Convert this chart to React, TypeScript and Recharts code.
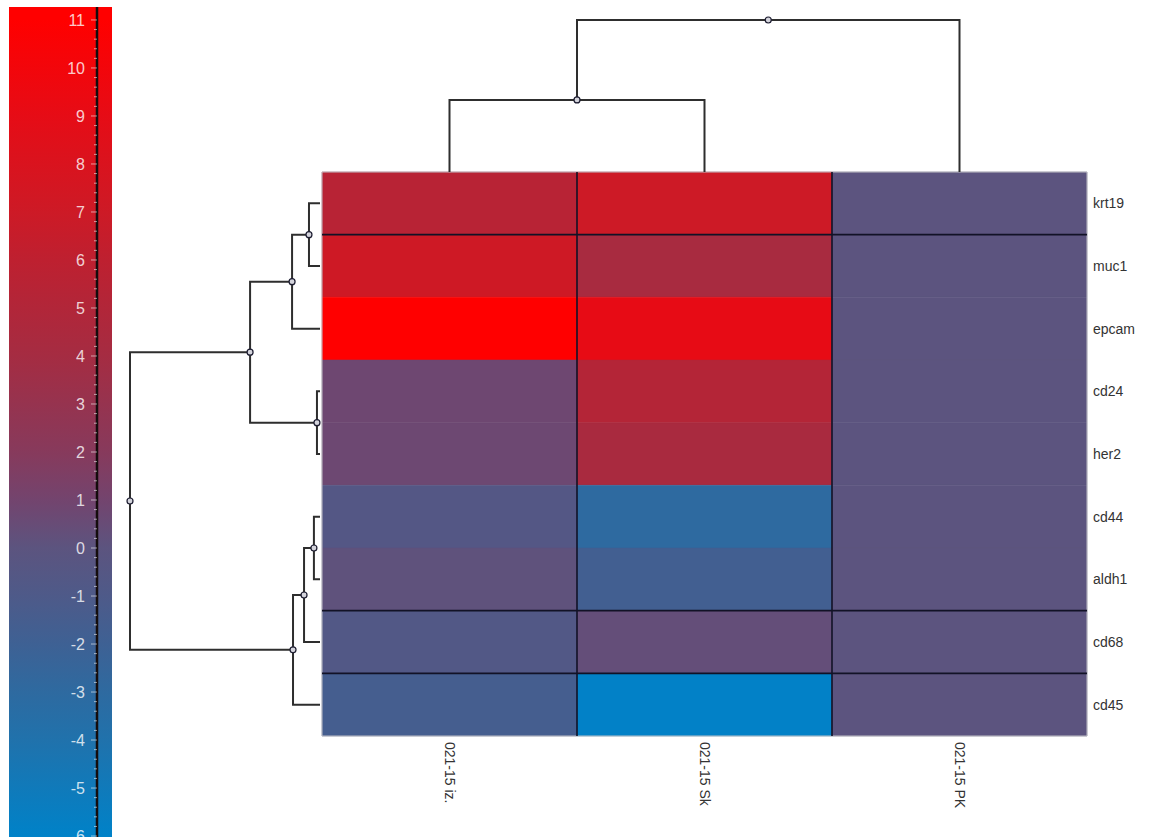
import React from "react";
import {
  ComposedChart, XAxis, YAxis, Line, Scatter, ReferenceArea, ReferenceLine,
} from "recharts";

const W = 1152;
const H = 837;
const FONT = "'Liberation Sans', Arial, sans-serif";

// rows (genes) and columns (samples) in dendrogram order
const genes = ["krt19", "muc1", "epcam", "cd24", "her2", "cd44", "aldh1", "cd68", "cd45"];
const samples = ["021-15 iz.", "021-15 Sk", "021-15 PK"];

// expression values per sample, same order as genes
const izValues = [5.5, 7.1, 11, 0.8, 0.75, -0.55, 0.15, -0.7, -1.55];
const skValues = [7.0, 4.2, 9.1, 5.2, 4.3, -3.0, -1.75, 0.35, -5.9];
const pkValues = [0, 0, 0, 0, 0, 0, 0, 0, 0];
const sampleValues = [izValues, skValues, pkValues];

// linkage: [childA, childB, distance]; ids >= n are earlier merges
const rowMerges: [number, number, number][] = [
  [0, 1, 0.58],
  [9, 2, 1.47],
  [3, 4, 0.16],
  [10, 11, 3.68],
  [5, 6, 0.32],
  [13, 7, 0.84],
  [14, 8, 1.42],
  [12, 15, 10],
];
const colMerges: [number, number, number][] = [
  [0, 1, 4.74],
  [3, 2, 10],
];

// cluster cut lines drawn on the heatmap
const rowCuts = [1, 7, 8];
const colCuts = [1, 2];

// colour scale
const colorStopValues = [11, 9, 7, 6, 4, 2, 1, 0, -1, -2, -3, -4, -6];
const colorStopRgb: [number, number, number][] = [
  [255, 0, 0], [230, 12, 22], [205, 26, 38], [190, 32, 48], [165, 44, 66],
  [135, 58, 92], [115, 68, 110], [92, 84, 127], [78, 90, 137], [62, 97, 148],
  [46, 106, 160], [32, 114, 172], [0, 130, 200],
];
const scaleTicks = [11, 10, 9, 8, 7, 6, 5, 4, 3, 2, 1, 0, -1, -2, -3, -4, -5, -6];
const barTop = 11.27;
const barBottom = -6.02;

function rgb(c: number[]) {
  return `rgb(${c.map(Math.round).join(",")})`;
}

function valueColor(v: number) {
  if (v >= colorStopValues[0]) return rgb(colorStopRgb[0]);
  for (let i = 1; i < colorStopValues.length; i++) {
    const hi = colorStopValues[i - 1];
    const lo = colorStopValues[i];
    if (v >= lo) {
      const t = (hi - v) / (hi - lo);
      const a = colorStopRgb[i - 1];
      const b = colorStopRgb[i];
      return rgb([0, 1, 2].map(k => a[k] + (b[k] - a[k]) * t));
    }
  }
  return rgb(colorStopRgb[colorStopRgb.length - 1]);
}

type Pt = { pos: number; h: number };

function buildTree(n: number, merges: [number, number, number][]) {
  const pos: number[] = [];
  const height: number[] = [];
  for (let i = 0; i < n; i++) { pos.push(i + 0.5); height.push(0); }
  const links: Pt[][] = [];
  const nodes: Pt[] = [];
  merges.forEach(([a, b, d]) => {
    links.push([
      { pos: pos[a], h: height[a] },
      { pos: pos[a], h: d },
      { pos: pos[b], h: d },
      { pos: pos[b], h: height[b] },
    ]);
    const p = (pos[a] + pos[b]) / 2;
    pos.push(p);
    height.push(d);
    nodes.push({ pos: p, h: d });
  });
  return { links, nodes };
}

const rowTree = buildTree(genes.length, rowMerges);
const colTree = buildTree(samples.length, colMerges);

const cells = sampleValues.flatMap((vals, c) =>
  vals.map((v, r) => ({ c: c + 0.5, r: r + 0.5, col: c, row: r, v }))
);

const LINE = "#2e2e2e";

const NodeDot = (p: any) => (
  <circle cx={p.cx} cy={p.cy} r={3} fill="#d4d4dc" stroke="#1c1c30" strokeWidth={1.2} />
);
const Empty = () => <g />;

function BarTick(props: any) {
  const { x, y, payload } = props;
  const v = payload.value as number;
  const major = Math.abs(v - Math.round(v)) < 1e-6;
  return (
    <g>
      <line x1={x - (major ? 6 : 3)} x2={x} y1={y} y2={y} stroke="#ffffff" strokeOpacity={0.55} />
      {major && (
        <text x={x - 12} y={y} dy="0.35em" textAnchor="end" fill="#ffffff" fillOpacity={0.8}
          fontSize={16} fontFamily={FONT}>
          {Math.round(v)}
        </text>
      )}
    </g>
  );
}

function SampleTick(props: any) {
  const { x, y, payload } = props;
  const label = samples[Math.floor(payload.value)];
  return (
    <text x={x} y={y} dy="0.35em" transform={`rotate(90 ${x} ${y})`} textAnchor="start"
      fill="#333" fontSize={14} fontFamily={FONT}>
      {label}
    </text>
  );
}

const layer: React.CSSProperties = { position: "absolute", left: 0, top: 0 };

export default function App() {
  const minorTicks: number[] = [];
  scaleTicks.slice(0, -1).forEach((t, i) => {
    const next = scaleTicks[i + 1];
    for (let k = 0; k < 5; k++) minorTicks.push(t + ((next - t) * k) / 5);
  });
  minorTicks.push(scaleTicks[scaleTicks.length - 1]);

  const span = barTop - barBottom;
  const barData = [{ x: 0.5, y: 0 }];

  return (
    <div style={{ position: "absolute", left: 0, top: 0, width: W, height: H, overflow: "hidden", background: "#fff", fontFamily: FONT }}>
      <svg width={1} height={1} style={{ position: "absolute", left: 0, top: 0 }}>
        <defs>
          <linearGradient id="cbGrad" x1="0" y1="0" x2="0" y2="1">
            <stop offset={0} stopColor={valueColor(barTop)} />
            {colorStopValues.map(v => (
              <stop key={v} offset={(barTop - v) / span} stopColor={valueColor(v)} />
            ))}
            <stop offset={1} stopColor={valueColor(barBottom)} />
          </linearGradient>
        </defs>
      </svg>

      {/* colour bar */}
      <div style={layer}>
        <ComposedChart width={W} height={H} margin={{ top: 7, right: W - 112, bottom: 0, left: 9 }}>
          <XAxis type="number" dataKey="x" domain={[0, 1]} hide />
          <YAxis type="number" dataKey="y" domain={[barBottom, barTop]} hide allowDataOverflow />
          <ReferenceArea x1={0} x2={1} y1={barBottom} y2={barTop} fill="url(#cbGrad)" fillOpacity={1} stroke="none" />
          <Scatter data={barData} shape={<Empty />} isAnimationActive={false} />
        </ComposedChart>
      </div>
      <div style={layer}>
        <ComposedChart width={W} height={H} margin={{ top: 7, right: W - 98, bottom: 0, left: 9 }}>
          <XAxis type="number" dataKey="x" domain={[0, 1]} hide />
          <YAxis type="number" dataKey="y" domain={[barBottom, barTop]} width={88} ticks={minorTicks} interval={0}
            allowDataOverflow axisLine={{ stroke: "#140c0c", strokeWidth: 2.5 }} tickLine={false}
            tickSize={0} tickMargin={0} tick={<BarTick />} />
          <Scatter data={barData} shape={<Empty />} isAnimationActive={false} />
        </ComposedChart>
      </div>

      {/* heatmap */}
      <div style={layer}>
        <ComposedChart width={W} height={H} margin={{ top: 172, right: 5, bottom: 11, left: 322 }}>
          <XAxis type="number" dataKey="c" domain={[0, samples.length]} ticks={samples.map((_, i) => i + 0.5)}
            interval={0} height={90} axisLine={false} tickLine={false} tickSize={0} tickMargin={6}
            tick={<SampleTick />} />
          <XAxis xAxisId="top" orientation="top" type="number" domain={[0, samples.length]}
            ticks={samples.map((_, i) => i + 0.5)} height={0} tick={false} tickSize={3}
            axisLine={{ stroke: "#c4c4c8" }} tickLine={{ stroke: "#b8b8bc" }} />
          <YAxis type="number" dataKey="r" orientation="right" domain={[0, genes.length]} reversed
            ticks={genes.map((_, i) => i + 0.5)} interval={0} width={60}
            tickFormatter={(v: number) => genes[Math.floor(v)]}
            axisLine={false} tickLine={false} tickSize={0} tickMargin={6}
            tick={{ fill: "#333", fontSize: 14, fontFamily: FONT }} />
          {cells.map(cell => (
            <ReferenceArea key={`${cell.col}-${cell.row}`} x1={cell.col} x2={cell.col + 1}
              y1={cell.row} y2={cell.row + 1} fill={valueColor(cell.v)} fillOpacity={1}
              stroke={valueColor(cell.v)} strokeWidth={0.5} />
          ))}
          <ReferenceArea x1={0} x2={samples.length} y1={0} y2={genes.length} fill="none" stroke="#c0c0c6" strokeWidth={1} />
          {colCuts.map(c => (
            <ReferenceLine key={`c${c}`} x={c} stroke="#121226" strokeWidth={1.6} />
          ))}
          {rowCuts.map(r => (
            <ReferenceLine key={`r${r}`} y={r} stroke="#121226" strokeWidth={1.6} />
          ))}
          <Scatter data={cells} shape={<Empty />} isAnimationActive={false} />
        </ComposedChart>
      </div>

      {/* row dendrogram */}
      <div style={layer}>
        <ComposedChart width={W} height={H} margin={{ top: 172, right: W - 320, bottom: H - 736, left: 130 }}>
          <XAxis type="number" dataKey="h" domain={[0, 10]} reversed hide />
          <YAxis type="number" dataKey="pos" domain={[0, genes.length]} reversed hide />
          {rowTree.links.map((pts, i) => (
            <Line key={i} data={pts} dataKey="pos" type="linear" stroke={LINE} strokeWidth={2}
              dot={false} activeDot={false} isAnimationActive={false} />
          ))}
          <Scatter data={rowTree.nodes} shape={<NodeDot />} isAnimationActive={false} />
        </ComposedChart>
      </div>

      {/* column dendrogram */}
      <div style={layer}>
        <ComposedChart width={W} height={H} margin={{ top: 20, right: W - 1087, bottom: H - 172, left: 322 }}>
          <XAxis type="number" dataKey="pos" domain={[0, samples.length]} hide />
          <YAxis type="number" dataKey="h" domain={[0, 10]} hide />
          {colTree.links.map((pts, i) => (
            <Line key={i} data={pts} dataKey="h" type="linear" stroke={LINE} strokeWidth={2}
              dot={false} activeDot={false} isAnimationActive={false} />
          ))}
          <Scatter data={colTree.nodes} shape={<NodeDot />} isAnimationActive={false} />
        </ComposedChart>
      </div>
    </div>
  );
}
